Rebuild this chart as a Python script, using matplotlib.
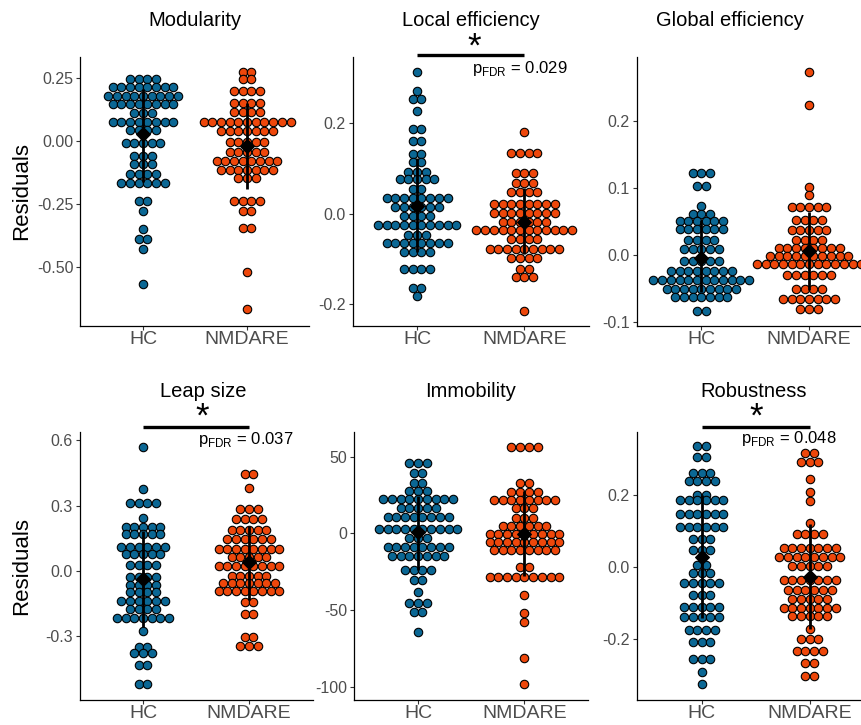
import numpy as np
import matplotlib
matplotlib.use('Agg')
import matplotlib.pyplot as plt
from matplotlib.transforms import blended_transform_factory

plt.rcParams['font.family'] = ['Liberation Sans', 'DejaVu Sans']
plt.rcParams['axes.unicode_minus'] = False

W, H = 862, 725
HC_COLOR = '#0b6794'
NM_COLOR = '#ee470b'
groups = ['HC', 'NMDARE']

# ---- data: dot rows (value, count) per group, plus mean and mean-sd / mean+sd
mod_hc_y = [0.245, 0.212, 0.180, 0.146, 0.110, 0.075, 0.044, -0.009, -0.059, -0.090,
            -0.130, -0.168, -0.236, -0.275, -0.350, -0.387, -0.427, -0.565]
mod_hc_n = [4, 8, 9, 8, 3, 8, 4, 5, 3, 3, 4, 6, 2, 1, 1, 2, 1, 1]
mod_nm_y = [0.271, 0.245, 0.197, 0.151, 0.115, 0.075, 0.040, -0.003, -0.042, -0.078,
            -0.113, -0.146, -0.237, -0.276, -0.343, -0.520, -0.664]
mod_nm_n = [2, 2, 4, 4, 4, 11, 7, 5, 5, 8, 7, 3, 4, 2, 2, 1, 1]
mod_mean = [0.026, -0.018]
mod_lo = [-0.161, -0.190]
mod_hi = [0.206, 0.151]

loc_hc_y = [0.314, 0.272, 0.255, 0.227, 0.188, 0.162, 0.133, 0.114, 0.093, 0.077, 0.055,
            0.034, 0.014, -0.004, -0.024, -0.047, -0.064, -0.084, -0.122, -0.164, -0.183]
loc_hc_n = [1, 1, 2, 1, 2, 2, 2, 2, 3, 5, 2, 8, 6, 4, 10, 3, 8, 4, 4, 2, 1]
loc_nm_y = [0.182, 0.134, 0.090, 0.068, 0.047, 0.021, 0.001, -0.018, -0.037, -0.057,
            -0.078, -0.097, -0.123, -0.141, -0.215]
loc_nm_n = [1, 4, 3, 3, 4, 8, 8, 6, 12, 4, 9, 4, 2, 3, 1]
loc_mean = [0.018, -0.018]
loc_lo = [-0.085, -0.090]
loc_hi = [0.123, 0.058]

glo_hc_y = [0.1216, 0.102, 0.073, 0.061, 0.051, 0.038, 0.022, 0.0085, -0.0085, -0.024,
            -0.037, -0.050, -0.063, -0.083]
glo_hc_n = [3, 2, 1, 3, 6, 6, 4, 5, 5, 8, 12, 9, 7, 2]
glo_nm_y = [0.272, 0.223, 0.101, 0.089, 0.072, 0.0526, 0.037, 0.022, 0.010, -0.0015,
            -0.0134, -0.030, -0.050, -0.065, -0.081]
glo_nm_n = [1, 1, 1, 1, 5, 4, 5, 4, 8, 10, 13, 6, 4, 7, 3]
glo_mean = [-0.004, 0.006]
glo_lo = [-0.0556, -0.0526]
glo_hi = [0.052, 0.064]

lea_hc_y = [0.570, 0.378, 0.313, 0.241, 0.2017, 0.170, 0.112, 0.077, 0.027, -0.029,
            -0.064, -0.097, -0.138, -0.176, -0.217, -0.276, -0.350, -0.376, -0.429, -0.517]
lea_hc_n = [1, 1, 4, 1, 5, 5, 6, 5, 4, 4, 4, 4, 6, 4, 7, 1, 2, 3, 2, 2]
lea_nm_y = [0.445, 0.381, 0.282, 0.238, 0.187, 0.146, 0.103, 0.065, 0.024, -0.021,
            -0.053, -0.092, -0.144, -0.199, -0.304, -0.346]
lea_nm_n = [2, 1, 3, 4, 5, 6, 8, 5, 8, 5, 7, 8, 2, 2, 2, 3]
lea_mean = [-0.035, 0.040]
lea_lo = [-0.256, -0.135]
lea_hi = [0.183, 0.206]

imm_hc_y = [46.1, 39.2, 32.5, 27.4, 22.2, 16.4, 10.6, 3.0, -3.0, -9.1, -15.1, -23.9,
            -30.6, -38.0, -45.5, -51.6, -64.5]
imm_hc_n = [3, 2, 2, 3, 9, 5, 8, 10, 3, 8, 7, 4, 2, 1, 3, 2, 1]
imm_nm_y = [56.5, 32.8, 27.0, 22.0, 16.4, 9.9, 5.0, -0.2, -6.0, -10.8, -21.8, -28.5,
            -40.1, -52.2, -58.0, -81.3, -98.1]
imm_nm_n = [4, 2, 4, 8, 3, 3, 6, 9, 9, 8, 2, 9, 1, 1, 1, 1, 1]
imm_mean = [0.9, -0.2]
imm_lo = [-23.7, -27.6]
imm_hi = [24.6, 27.4]

rob_hc_y = [0.334, 0.306, 0.260, 0.237, 0.200, 0.184, 0.147, 0.110, 0.078, 0.046, 0.0055,
            -0.017, -0.045, -0.080, -0.113, -0.141, -0.177, -0.209, -0.257, -0.294, -0.326]
rob_hc_n = [2, 2, 3, 4, 2, 6, 6, 6, 3, 3, 2, 3, 5, 3, 5, 5, 4, 3, 3, 1, 1]
rob_nm_y = [0.316, 0.290, 0.244, 0.208, 0.182, 0.122, 0.092, 0.053, 0.0276, 0.003,
            -0.037, -0.066, -0.090, -0.116, -0.138, -0.173, -0.200, -0.233, -0.267, -0.305]
rob_nm_n = [2, 3, 1, 1, 1, 1, 4, 7, 8, 5, 7, 6, 5, 7, 5, 1, 3, 4, 2, 2]
rob_mean = [0.0276, -0.0276]
rob_lo = [-0.144, -0.172]
rob_hi = [0.200, 0.118]

titles = ['Modularity', 'Local efficiency', 'Global efficiency',
          'Leap size', 'Immobility', 'Robustness']
pvalues = [None, '0.029', None, '0.037', None, '0.048']

# ---- layout (pixels): left, top, bottom, width, ylim, yticks, yticklabels, title centre
panels = [
    dict(d=(mod_hc_y, mod_hc_n, mod_nm_y, mod_nm_n, mod_mean, mod_lo, mod_hi),
         box=(80.5, 56.7, 326, 229), ylim=(-0.7318, 0.3335),
         ticks=[-0.5, -0.25, 0, 0.25], labs=['-0.50', '-0.25', '0.00', '0.25'],
         tpos=(195, 21), ptxt=None),
    dict(d=(loc_hc_y, loc_hc_n, loc_nm_y, loc_nm_n, loc_mean, loc_lo, loc_hi),
         box=(352.7, 56.7, 326, 236), ylim=(-0.2486, 0.3476),
         ticks=[-0.2, 0, 0.2], labs=['-0.2', '0.0', '0.2'],
         tpos=(471, 21), ptxt=(568, 68, 55, 474, 44)),
    dict(d=(glo_hc_y, glo_hc_n, glo_nm_y, glo_nm_n, glo_mean, glo_lo, glo_hi),
         box=(636.7, 56.7, 326, 237), ylim=(-0.1057, 0.2951),
         ticks=[-0.1, 0, 0.1, 0.2], labs=['-0.1', '0.0', '0.1', '0.2'],
         tpos=(730, 21), ptxt=None),
    dict(d=(lea_hc_y, lea_hc_n, lea_nm_y, lea_nm_n, lea_mean, lea_lo, lea_hi),
         box=(79.5, 431.7, 700, 233), ylim=(-0.5917, 0.6386),
         ticks=[-0.3, 0, 0.3, 0.6], labs=['-0.3', '0.0', '0.3', '0.6'],
         tpos=(203, 392), ptxt=(293.3, 439, 426.7, 202, 414)),
    dict(d=(imm_hc_y, imm_hc_n, imm_nm_y, imm_nm_n, imm_mean, imm_lo, imm_hi),
         box=(354.3, 431.7, 700, 234), ylim=(-108.7, 66.2),
         ticks=[-100, -50, 0, 50], labs=['-100', '-50', '0', '50'],
         tpos=(471, 392), ptxt=None),
    dict(d=(rob_hc_y, rob_hc_n, rob_nm_y, rob_nm_n, rob_mean, rob_lo, rob_hi),
         box=(636.7, 431.7, 700, 238), ylim=(-0.3705, 0.375),
         ticks=[-0.2, 0, 0.2], labs=['-0.2', '0.0', '0.2'],
         tpos=(754, 392), ptxt=(836.7, 438.5, 426.7, 756, 414)),
]

DOT_PX = 8.7

fig = plt.figure(figsize=(W / 100, H / 100), dpi=100)


def fx(x):
    return x / W


def fy(y):
    return 1 - y / H


def dotrows(ax, xc, ys, ns, step, color):
    xs, yy = [], []
    for y, n in zip(ys, ns):
        for i in range(n):
            xs.append(xc + (i - (n - 1) / 2.0) * step)
            yy.append(y)
    ax.scatter(xs, yy, s=37, c=color, edgecolors='black', linewidths=0.8, zorder=3,
               clip_on=False)


for k, p in enumerate(panels):
    left, top, bottom, width = p['box']
    ax = fig.add_axes([fx(left), fy(bottom), width / W, (bottom - top) / H])
    hc_y, hc_n, nm_y, nm_n, mean, lo, hi = p['d']
    step = DOT_PX / (width / 2.2)
    dotrows(ax, 1, hc_y, hc_n, step, HC_COLOR)
    dotrows(ax, 2, nm_y, nm_n, step, NM_COLOR)
    ax.vlines([1, 2], lo, hi, colors='black', linewidth=2.0, zorder=4)
    ax.scatter([1, 2], mean, marker='D', s=48, c='black', zorder=5)

    ax.set_xlim(0.4, 2.6)
    ax.set_ylim(*p['ylim'])
    ax.set_xticks([1, 2])
    ax.set_xticklabels(groups, fontsize=14, color='#4d4d4d')
    ax.set_yticks(p['ticks'])
    ax.set_yticklabels(p['labs'], fontsize=11.5, color='#4d4d4d')
    ax.tick_params(length=3, width=0.8, color='#333333', pad=2)
    ax.tick_params(axis='x', pad=0.5)
    for s in ['top', 'right']:
        ax.spines[s].set_visible(False)
    for s in ['left', 'bottom']:
        ax.spines[s].set_linewidth(0.9)
        ax.spines[s].set_color('black')

    fig.text(fx(p['tpos'][0]), fy(p['tpos'][1]), titles[k], fontsize=14.5,
             ha='center', va='center')

    if p['ptxt'] is not None:
        tx, ty, ly, sx, sy = p['ptxt']
        trans = blended_transform_factory(ax.transData, fig.transFigure)
        ax.plot([1, 2], [fy(ly), fy(ly)], color='black', linewidth=2.4,
                transform=trans, clip_on=False, solid_capstyle='butt')
        fig.text(fx(sx), fy(sy + 13), '*', fontsize=25, ha='center', va='baseline')
        fig.text(fx(tx), fy(ty), r'p$_{\mathregular{FDR}}$ = ' + pvalues[k],
                 fontsize=12, ha='right', va='center')

for yc in [191, 566]:
    fig.text(fx(22), fy(yc), 'Residuals', fontsize=16, rotation=90,
             ha='center', va='center')

fig.savefig('out.png', dpi=100)
